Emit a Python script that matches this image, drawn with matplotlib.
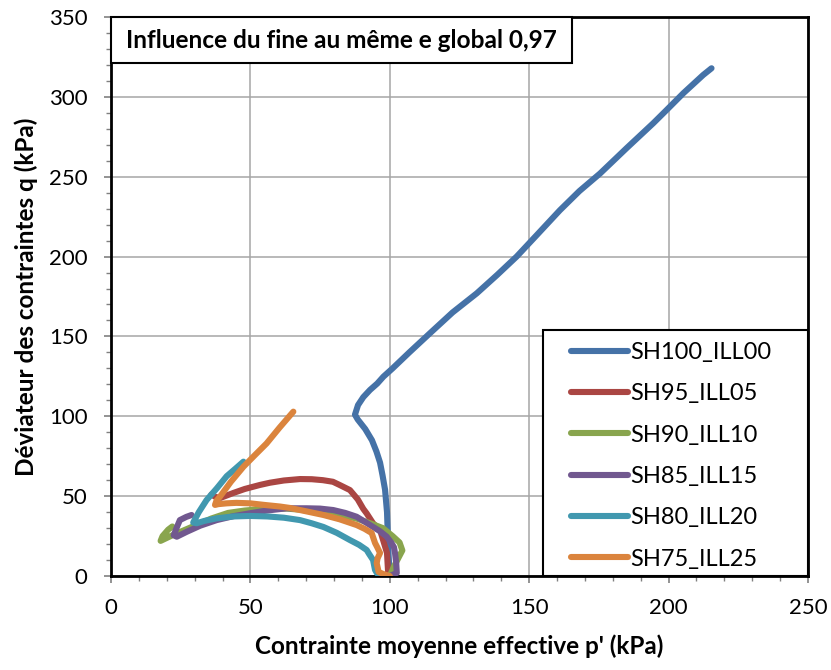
import matplotlib
matplotlib.use("Agg")
import matplotlib.pyplot as plt
from matplotlib.patches import Rectangle
from matplotlib.ticker import MultipleLocator

plt.rcParams['font.family'] = ['Lato', 'DejaVu Sans']

labels = ["SH100_ILL00", "SH95_ILL05", "SH90_ILL10", "SH85_ILL15", "SH80_ILL20", "SH75_ILL25"]
colors = ["#4572A7", "#AA4643", "#89A54E", "#71588F", "#4198AF", "#DB843D"]

p_sh100 = [100, 99.6, 99.3, 99.0, 98.3, 97.4, 96.5, 95.2, 93.6, 91.2, 88.5, 87.5, 88.6, 90.5, 92.9, 95.5, 97.7,
           101, 107, 114.4, 122.5, 131.2, 138.5, 145.5, 153, 161, 168, 175.4, 185, 194.5, 199.3, 205.3, 212.4, 215.4]
q_sh100 = [0, 12, 25, 40, 54, 63, 71, 78, 85, 92, 98, 101, 107, 112, 116.5, 120.5, 124.8,
           130, 140, 152, 165, 177, 188.5, 200, 214, 229, 241, 252, 268, 283.5, 291.8, 302.3, 313.7, 317.9]

p_sh95 = [100, 99.4, 99.0, 97.6, 96.5, 94, 91.7, 90.5, 88.5, 85.7, 82, 79.6, 76, 72, 67.8, 62, 57, 53.4, 48, 43.9,
          39.1, 37.5, 36]
q_sh95 = [0, 2, 14.4, 22.5, 28.8, 33, 39.2, 42, 48, 53.8, 57, 59, 60, 60.6, 60.7, 59.8, 58.4, 57, 54.5, 52,
          48.8, 49.5, 51]

p_sh90 = [100, 101.5, 103, 104.5, 103.5, 101, 97.5, 93, 88, 84, 76, 68, 63, 55, 48, 42, 36, 30, 26, 22, 19, 17.8,
          18.5, 20.5, 22]
q_sh90 = [0, 6, 11, 16, 21, 25, 30, 33, 36, 37.5, 39.5, 41.5, 42.2, 42, 41, 39.5, 36, 31.5, 28.5, 25.5, 23, 22,
          25, 29, 31]

p_sh85 = [100, 102.5, 102.3, 101.9, 101.5, 100.5, 98.9, 96.5, 94, 91, 88.1, 84, 79.7, 75, 70.2, 63, 56, 49.9, 44,
          37.9, 32, 27.2, 23.6, 22.5, 23.5, 24.7, 27, 28.9]
q_sh85 = [0, 1.9, 8, 14, 18, 21, 24.6, 28, 30.7, 34, 37.1, 39.5, 41.3, 42.2, 42.4, 42.4, 41, 39.3, 37.5,
          35, 31.5, 27.7, 24.6, 25.5, 30, 35, 37, 38.2]

p_sh80 = [97, 95.5, 94.7, 94, 92.5, 91.7, 89, 85.7, 81, 76.2, 72, 67.8, 62, 56, 49.9, 44, 37.9, 33.5, 30.7, 29.5,
          31.5, 34.3, 38, 41.5, 44.5, 47.5]
q_sh80 = [0, 1.5, 3.8, 10, 14, 16.3, 19.5, 22.5, 27, 30.7, 33, 35, 36.5, 37.3, 37.6, 37.3, 36.1, 34.5, 33, 33.5,
          40, 47.6, 55, 62.5, 67, 71.6]

p_sh75 = [100, 98, 96, 95.3, 95.6, 96.5, 95.5, 94.7, 93.5, 91, 88.1, 82, 76.2, 70, 64.2, 60.6, 55, 49.9, 45, 41.5,
          38.5, 37.3, 37.8, 39.1, 43, 47.5, 51.5, 55.8, 60.5, 65.4]
q_sh75 = [0, 1, 2.5, 8, 11, 14.4, 18, 20.7, 26.9, 29.5, 31.9, 35.5, 38.2, 40.5, 42.6, 43.5, 44.5, 45.5, 45.8, 45.5,
          45, 44.5, 47, 49.7, 59, 68.4, 75.5, 83, 93, 102.9]

series_p = [p_sh100, p_sh95, p_sh90, p_sh85, p_sh80, p_sh75]
series_q = [q_sh100, q_sh95, q_sh90, q_sh85, q_sh80, q_sh75]

title_text = "Influence du fine au même e global 0,97"
xlabel = "Contrainte moyenne effective p' (kPa)"
ylabel = "Déviateur des contraintes q (kPa)"

W, H = 831, 670
fig = plt.figure(figsize=(W / 100, H / 100), dpi=100)
L, R, B, T = 111, 808, 576, 17
ax = fig.add_axes([L / W, 1 - B / H, (R - L) / W, (B - T) / H])

for p, q, c, lab in zip(series_p, series_q, colors, labels):
    ax.plot(p, q, color=c, lw=4.4, solid_capstyle='round', solid_joinstyle='round', label=lab, zorder=3)

ax.set_xlim(0, 250)
ax.set_ylim(0, 350)
ax.xaxis.set_major_locator(MultipleLocator(50))
ax.yaxis.set_major_locator(MultipleLocator(50))
ax.xaxis.set_minor_locator(MultipleLocator(10))
ax.yaxis.set_minor_locator(MultipleLocator(10))
ax.grid(True, which='major', color='#A6A6A6', lw=1.1, zorder=1)
ax.tick_params(which='major', direction='out', length=5, width=1.2, color='#808080', labelsize=16)
ax.tick_params(which='minor', direction='out', length=3.5, width=1.0, color='#808080')
ax.tick_params(axis='y', which='major', pad=12)
ax.tick_params(axis='x', which='major', pad=11)
for s in ax.spines.values():
    s.set_linewidth(2)
    s.set_color('black')

ax.set_xlabel(xlabel, fontsize=17.5, fontweight='bold', labelpad=12)
ax.set_ylabel(ylabel, fontsize=17.5, fontweight='bold', labelpad=8)

# title box
tx0 = 0
tx1 = (572 - L) / (R - L)
ty0 = (B - 63) / (B - T)
ax.add_patch(Rectangle((tx0, ty0), tx1 - tx0, 1 - ty0, transform=ax.transAxes, facecolor='white',
                       edgecolor='black', lw=1.5, zorder=5, clip_on=False))
ax.text((tx0 + tx1) / 2, (ty0 + 1) / 2, title_text, transform=ax.transAxes, ha='center', va='center',
        fontsize=17.6, fontweight='bold', zorder=6)

# legend box
lx0 = (543 - L) / (R - L)
ly1 = (B - 330) / (B - T)
ax.add_patch(Rectangle((lx0, 0), 1 - lx0, ly1, transform=ax.transAxes, facecolor='white',
                       edgecolor='black', lw=1.5, zorder=5, clip_on=False))
leg = ax.legend(loc='upper left', bbox_to_anchor=((571 - L) / (R - L), (B - 342) / (B - T)),
                frameon=False, fontsize=17, handlelength=2.4, handletextpad=0.12, labelspacing=0.86,
                borderpad=0, borderaxespad=0)
leg.set_zorder(7)

fig.savefig("out.png", dpi=100)
